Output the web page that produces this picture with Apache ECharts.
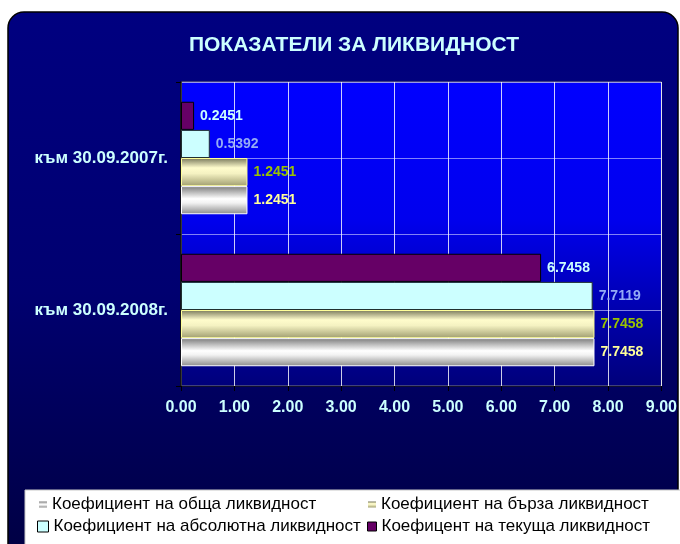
<!DOCTYPE html>
<html>
<head>
<meta charset="utf-8">
<script src="https://cdn.jsdelivr.net/npm/echarts@6/dist/echarts.min.js"></script>
<style>
html,body{margin:0;padding:0;background:#ffffff;}
#chart{width:680px;height:544px;}
</style>
</head>
<body>
<div id="chart"></div>
<script>
var titleText = 'ПОКАЗАТЕЛИ ЗА ЛИКВИДНОСТ';
var categories = ['към 30.09.2007г.', 'към 30.09.2008г.'];
var nameTekushta = 'Коефицент на текуща ликвидност';
var nameAbsolyutna = 'Коефициент на абсолютна ликвидност';
var nameBarza = 'Коефициент на бърза ликвидност';
var nameObshta = 'Коефициент на обща ликвидност';
var tekushta = [0.2451, 6.7458];
var absolyutna = [0.5392, 7.7119];
var barza = [1.2451, 7.7458];
var obshta = [1.2451, 7.7458];
var xMin = 0, xMax = 9, xStep = 1;

var FONT = '"Liberation Sans", Arial, sans-serif';
var G = echarts.graphic.LinearGradient;

var chart = echarts.init(document.getElementById('chart'), null, {renderer: 'canvas'});

var silverGrad = new G(0, 0, 0, 1, [
  {offset: 0, color: '#7a7a7a'},
  {offset: 0.45, color: '#ffffff'},
  {offset: 0.6, color: '#f2f2f2'},
  {offset: 1, color: '#8a8a8a'}
]);
var beigeGrad = new G(0, 0, 0, 1, [
  {offset: 0, color: '#77775a'},
  {offset: 0.35, color: '#fffccc'},
  {offset: 0.55, color: '#f5f2c2'},
  {offset: 1, color: '#a09e70'}
]);

function lbl(color) {
  return {
    show: true, position: 'right', distance: 6,
    color: color, fontFamily: FONT, fontWeight: 'bold', fontSize: 14,
    formatter: function (p) { return p.value.toFixed(4); }
  };
}

function legendAt(name, left, top, icon, iw, ih, itemStyle) {
  return {
    data: [{name: name, icon: icon, itemStyle: itemStyle}],
    left: left, top: top, itemWidth: iw, itemHeight: ih, padding: 0,
    textStyle: {color: '#000000', fontFamily: FONT, fontSize: 17},
    selectedMode: false
  };
}

var option = {
  animation: false,
  backgroundColor: '#ffffff',
  graphic: [
    {
      type: 'rect', z: -100, silent: true,
      shape: {x: 8, y: 12, width: 670, height: 560, r: 16},
      style: {
        fill: new G(0, 0, 0, 1, [
          {offset: 0, color: '#000080'},
          {offset: 0.5, color: '#000070'},
          {offset: 1, color: '#000040'}
        ]),
        stroke: '#000000', lineWidth: 1.5
      }
    },
    {
      type: 'rect', z: -90, silent: true,
      shape: {x: 25, y: 490, width: 660, height: 60},
      style: {fill: '#ffffff', stroke: '#c8c8c8', lineWidth: 1}
    }
  ],
  title: {
    text: titleText, left: 349, top: 30, textAlign: 'center',
    textStyle: {color: '#ccffff', fontFamily: FONT, fontWeight: 'bold', fontSize: 21}
  },
  legend: [
    legendAt(nameObshta, 39, 496, 'rect', 8, 6, {color: silverGrad, borderWidth: 0}),
    legendAt(nameBarza, 368, 496, 'rect', 8, 6, {color: beigeGrad, borderWidth: 0}),
    legendAt(nameAbsolyutna, 37, 518, 'rect', 11, 11, {color: '#ccffff', borderColor: '#000000', borderWidth: 1}),
    legendAt(nameTekushta, 367, 518, 'rect', 9, 9, {color: '#660066', borderColor: '#000000', borderWidth: 1})
  ],
  grid: {
    left: 181, top: 82, width: 484, height: 304,
    show: true, borderColor: '#808080', borderWidth: 1,
    backgroundColor: new G(0, 0, 0, 1, [
      {offset: 0, color: '#0000ff'},
      {offset: 0.45, color: '#0000ee'},
      {offset: 1, color: '#00007a'}
    ])
  },
  xAxis: {
    type: 'value', min: xMin, max: xMax, interval: xStep,
    axisLine: {show: true, lineStyle: {color: '#101030', width: 1}},
    axisTick: {show: true, length: 5, inside: false, lineStyle: {color: '#000000'}},
    axisLabel: {
      color: '#ccffff', fontFamily: FONT, fontWeight: 'bold', fontSize: 16, margin: 14,
      formatter: function (v) { return v.toFixed(2); }
    },
    splitLine: {show: true, lineStyle: {color: 'rgba(255,255,255,0.8)', width: 1}}
  },
  yAxis: [
    {
      type: 'category', data: categories, inverse: true,
      axisLine: {show: true, lineStyle: {color: '#000000', width: 1.5}},
      axisTick: {show: true, length: 5, lineStyle: {color: '#000000'}},
      axisLabel: {color: '#ccffff', fontFamily: FONT, fontWeight: 'bold', fontSize: 17, margin: 13},
      splitLine: {show: false}
    },
    {
      type: 'value', min: 0, max: 4, interval: 1, position: 'right',
      axisLine: {show: false}, axisTick: {show: false}, axisLabel: {show: false},
      splitLine: {show: true, lineStyle: {color: 'rgba(200,200,255,0.65)', width: 1}}
    }
  ],
  series: [
    {
      name: nameTekushta, type: 'bar', data: tekushta, yAxisIndex: 0,
      barGap: '0%', barCategoryGap: '26%',
      itemStyle: {color: '#660066', borderColor: '#000000', borderWidth: 1},
      label: lbl('#ccffff')
    },
    {
      name: nameAbsolyutna, type: 'bar', data: absolyutna, yAxisIndex: 0,
      barGap: '0%', barCategoryGap: '26%',
      itemStyle: {color: '#ccffff', borderColor: '#203030', borderWidth: 1},
      label: lbl('#94abf5')
    },
    {
      name: nameBarza, type: 'bar', data: barza, yAxisIndex: 0,
      barGap: '0%', barCategoryGap: '26%',
      itemStyle: {color: beigeGrad, borderColor: '#ffff99', borderWidth: 1},
      label: lbl('#99c200')
    },
    {
      name: nameObshta, type: 'bar', data: obshta, yAxisIndex: 0,
      barGap: '0%', barCategoryGap: '26%',
      itemStyle: {color: silverGrad, borderColor: '#ffffff', borderWidth: 1},
      label: lbl('#ffff99')
    }
  ]
};
chart.setOption(option);
</script>
</body>
</html>
